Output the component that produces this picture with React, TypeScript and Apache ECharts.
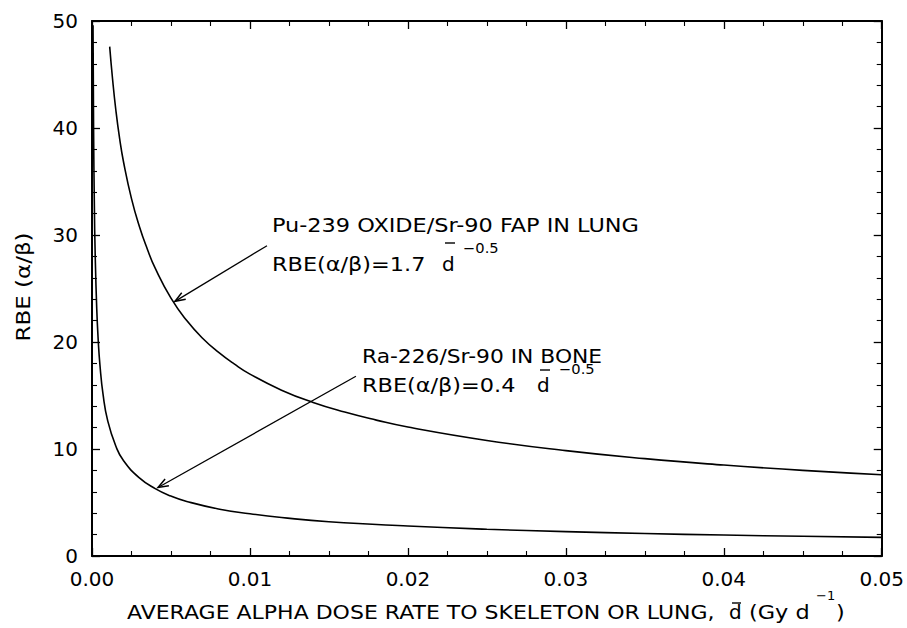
import React, { useEffect, useRef } from "react";
import * as echarts from "echarts";

// Pu-239 oxide / Sr-90 FAP in lung
const doseRatePu = [0.00112, 0.0013, 0.0015, 0.00175, 0.002, 0.0025, 0.003, 0.0035, 0.004, 0.005, 0.006, 0.007, 0.008, 0.009, 0.01, 0.012, 0.014, 0.016, 0.018, 0.02, 0.025, 0.03, 0.035, 0.04, 0.045, 0.05];
const rbePu = [47.6, 44.6, 41.8, 39.0, 36.8, 33.4, 30.8, 28.7, 26.9, 24.1, 22.0, 20.35, 19.05, 17.95, 17.0, 15.5, 14.35, 13.45, 12.7, 12.05, 10.8, 9.85, 9.1, 8.5, 8.0, 7.6];

// Ra-226 / Sr-90 in bone
const doseRateRa = [0.000065, 0.0001, 0.00015, 0.0002, 0.0003, 0.0004, 0.0005, 0.0007, 0.001, 0.0015, 0.002, 0.003, 0.004, 0.005, 0.006, 0.008, 0.01, 0.012, 0.015, 0.02, 0.025, 0.03, 0.035, 0.04, 0.045, 0.05];
const rbeRa = [49.6, 40.0, 32.7, 28.3, 23.1, 20.0, 17.9, 15.1, 12.6, 10.3, 8.9, 7.3, 6.3, 5.6, 5.1, 4.4, 3.95, 3.6, 3.2, 2.8, 2.5, 2.28, 2.1, 1.96, 1.84, 1.74];

// annotation arrows [dose rate, RBE]
const arrowPuFrom = [0.01108, 29.0];
const arrowPuTo = [0.00525, 23.8];
const arrowRaFrom = [0.01671, 16.8];
const arrowRaTo = [0.00418, 6.4];

const xMin = 0;
const xMax = 0.05;
const xInterval = 0.01;
const yMin = 0;
const yMax = 50;
const yInterval = 10;

const FONT = '"DejaVu Sans", sans-serif';

function txt(text: string, x: number, y: number, size = 20, sx = 1.12): any {
  return {
    type: "text",
    x,
    y,
    scaleX: sx,
    silent: true,
    style: { text, fontSize: size, fontFamily: FONT, fill: "#000", align: "left", verticalAlign: "middle" },
  };
}
function bar(x1: number, x2: number, y: number): any {
  return { type: "line", silent: true, shape: { x1, y1: y, x2, y2: y }, style: { stroke: "#000", lineWidth: 1.4 } };
}

export default function App() {
  const ref = useRef<HTMLDivElement>(null);
  useEffect(() => {
    if (!ref.current) return;
    const chart = echarts.init(ref.current, undefined, { renderer: "svg" });
    const pu = doseRatePu.map((d, i) => [d, rbePu[i]]);
    const ra = doseRateRa.map((d, i) => [d, rbeRa[i]]);
    const axisLine = { show: true, onZero: false, lineStyle: { color: "#000", width: 2 } };
    const xCommon = {
      type: "value",
      min: xMin,
      max: xMax,
      interval: xInterval,
      axisLine,
      axisTick: { show: true, inside: true, length: 8, lineStyle: { color: "#000", width: 1.3 } },
      minorTick: { show: true, splitNumber: 4, length: 5, lineStyle: { color: "#000", width: 1.1 } },
      splitLine: { show: false },
      minorSplitLine: { show: false },
    };
    const yCommon = {
      type: "value",
      min: yMin,
      max: yMax,
      interval: yInterval,
      axisLine,
      axisTick: { show: true, inside: true, length: 8, lineStyle: { color: "#000", width: 1.3 } },
      minorTick: { show: true, splitNumber: 5, length: 5, lineStyle: { color: "#000", width: 1.1 } },
      splitLine: { show: false },
      minorSplitLine: { show: false },
    };
    chart.setOption({
      animation: false,
      backgroundColor: "#fff",
      grid: { left: 92, right: 25, top: 21, bottom: 72, containLabel: false },
      xAxis: [
        {
          ...xCommon,
          position: "bottom",
          axisLabel: {
            show: true,
            margin: 13,
            color: "#000",
            fontSize: 20,
            fontFamily: FONT,
            formatter: (v: number) => v.toFixed(2),
          },
        },
        { ...xCommon, position: "top", axisLabel: { show: false } },
      ],
      yAxis: [
        {
          ...yCommon,
          position: "left",
          axisLabel: { show: true, margin: 14, color: "#000", fontSize: 20, fontFamily: FONT },
        },
        { ...yCommon, position: "right", axisLabel: { show: false } },
      ],
      series: [
        {
          type: "line",
          data: pu,
          showSymbol: false,
          smooth: 0.5,
          lineStyle: { color: "#000", width: 1.6 },
          silent: true,
        },
        {
          type: "line",
          data: ra,
          showSymbol: false,
          smooth: 0.5,
          lineStyle: { color: "#000", width: 1.6 },
          silent: true,
        },
      ],
    });

    const arrowGraphics: any[] = [];
    [
      [arrowPuFrom, arrowPuTo],
      [arrowRaFrom, arrowRaTo],
    ].forEach(([f, t]) => {
      const p0 = chart.convertToPixel({ gridIndex: 0 }, f) as number[];
      const p1 = chart.convertToPixel({ gridIndex: 0 }, t) as number[];
      const ang = Math.atan2(p1[1] - p0[1], p1[0] - p0[0]);
      const L = 11;
      const W = 0.36;
      const a1 = [p1[0] - L * Math.cos(ang - W), p1[1] - L * Math.sin(ang - W)];
      const a2 = [p1[0] - L * Math.cos(ang + W), p1[1] - L * Math.sin(ang + W)];
      arrowGraphics.push({
        type: "line",
        silent: true,
        shape: { x1: p0[0], y1: p0[1], x2: p1[0], y2: p1[1] },
        style: { stroke: "#000", lineWidth: 1.3 },
      });
      arrowGraphics.push({
        type: "polyline",
        silent: true,
        shape: { points: [a1, p1, a2] },
        style: { stroke: "#000", lineWidth: 1.5, fill: null },
      });
    });

    chart.setOption({
      graphic: [
        txt("Pu-239 OXIDE/Sr-90 FAP IN LUNG", 272, 225),
        txt("RBE(α/β)=1.7", 272, 264),
        txt("d", 442, 264, 20, 1),
        bar(445, 455, 243),
        txt("−0.5", 463, 248, 14, 1.05),
        txt("Ra-226/Sr-90 IN BONE", 362, 356, 20, 1.09),
        txt("RBE(α/β)=0.4", 362, 385),
        txt("d", 537, 385, 20, 1),
        bar(540, 550, 370),
        txt("−0.5", 559, 369, 14, 1.05),
        txt("AVERAGE ALPHA DOSE RATE TO SKELETON OR LUNG,", 127, 612, 20, 1.1),
        txt("d", 729, 612, 20, 1),
        bar(732, 741, 603),
        txt("(Gy d", 749, 612),
        txt("−1", 816, 595, 13, 1),
        txt(")", 836, 612),
        {
          type: "text",
          x: 23,
          y: 287,
          rotation: Math.PI / 2,
          scaleX: 1.15,
          silent: true,
          style: { text: "RBE (α/β)", fontSize: 20, fontFamily: FONT, fill: "#000", align: "center", verticalAlign: "middle" },
        },
        ...arrowGraphics,
      ],
    });
    return () => chart.dispose();
  }, []);
  return <div ref={ref} style={{ position: "fixed", left: 0, top: 0, width: 907, height: 628 }} />;
}
